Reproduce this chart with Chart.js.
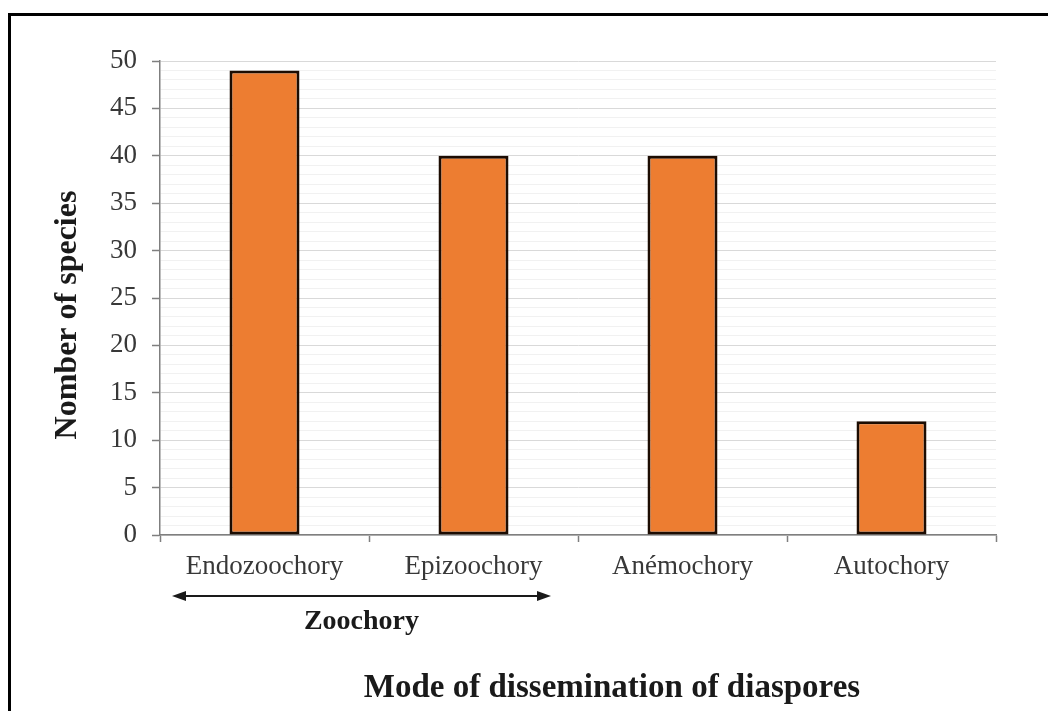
<!DOCTYPE html>
<html>
<head>
<meta charset="utf-8">
<script src="https://cdn.jsdelivr.net/npm/chart.js@4/dist/chart.umd.min.js"></script>
<style>
  html, body { margin: 0; padding: 0; background: #ffffff; }
  #wrap { width: 1048px; height: 711px; position: relative; }
</style>
</head>
<body>
<div id="wrap"><canvas id="chart"></canvas></div>
<script>
// Dissemination modes and species counts
const categories = ['Endozoochory', 'Epizoochory', 'Anémochory', 'Autochory'];
const speciesCounts = [49, 40, 40, 12];
const yTickLabels = ['0', '5', '10', '15', '20', '25', '30', '35', '40', '45', '50'];

const yTitle = 'Nomber of species';
const xTitle = 'Mode of dissemination of diaspores';
const groupLabel = 'Zoochory';
// first and last category spanned by the zoochory bracket
const groupSpan = ['Endozoochory', 'Epizoochory'];

const SERIF = '"Liberation Serif", "Times New Roman", serif';
const INK = '#1a1a1a';

const isMajor = v => v % 5 === 0;

// Frame, bracket arrow and axis titles drawn on the canvas
const decorations = {
  id: 'decorations',
  beforeDraw(chart) {
    const ctx = chart.ctx;
    ctx.save();
    ctx.fillStyle = '#ffffff';
    ctx.fillRect(0, 0, chart.width, chart.height);
    ctx.strokeStyle = '#000000';
    ctx.lineWidth = 3;
    ctx.strokeRect(9.5, 14.5, chart.width + 20, chart.height + 20);
    ctx.restore();
  },
  afterDraw(chart) {
    const ctx = chart.ctx;
    const x = chart.scales.x;
    ctx.save();

    // Y axis title
    ctx.fillStyle = INK;
    ctx.font = 'bold 32px ' + SERIF;
    ctx.textAlign = 'center';
    ctx.textBaseline = 'middle';
    ctx.translate(68, 315);
    ctx.rotate(-Math.PI / 2);
    ctx.fillText(yTitle, 0, 0);
    ctx.setTransform(1, 0, 0, 1, 0, 0);

    // Zoochory bracket: double-headed arrow under the first two categories
    const i0 = categories.indexOf(groupSpan[0]);
    const i1 = categories.indexOf(groupSpan[1]);
    const half = (x.getPixelForValue(1) - x.getPixelForValue(0)) / 2;
    const ax0 = x.getPixelForValue(i0) - half + 12;
    const ax1 = x.getPixelForValue(i1) + half - 27;
    const ay = 596;
    ctx.strokeStyle = INK;
    ctx.fillStyle = INK;
    ctx.lineWidth = 2;
    ctx.beginPath();
    ctx.moveTo(ax0 + 6, ay);
    ctx.lineTo(ax1 - 6, ay);
    ctx.stroke();
    const head = (tipX, dir) => {
      ctx.beginPath();
      ctx.moveTo(tipX, ay);
      ctx.lineTo(tipX + dir * 14, ay - 5);
      ctx.lineTo(tipX + dir * 14, ay + 5);
      ctx.closePath();
      ctx.fill();
    };
    head(ax0, 1);
    head(ax1, -1);

    ctx.font = 'bold 28px ' + SERIF;
    ctx.textAlign = 'center';
    ctx.textBaseline = 'middle';
    ctx.fillText(groupLabel, (ax0 + ax1) / 2, 622);

    // X axis title
    ctx.font = 'bold 33px ' + SERIF;
    ctx.fillText(xTitle, 612, 688);
    ctx.restore();
  }
};

new Chart(document.getElementById('chart'), {
  type: 'bar',
  data: {
    labels: categories,
    datasets: [{
      label: yTitle,
      data: speciesCounts,
      backgroundColor: '#ED7D31',
      borderColor: '#1c0c02',
      borderWidth: 3,
      borderSkipped: false,
      categoryPercentage: 1,
      barPercentage: 0.335
    }]
  },
  options: {
    responsive: true,
    maintainAspectRatio: false,
    animation: false,
    events: [],
    layout: { padding: { left: 0, right: 52, top: 61, bottom: 0 } },
    plugins: {
      legend: { display: false },
      tooltip: { enabled: false },
      title: { display: false }
    },
    scales: {
      x: {
        offset: true,
        grid: {
          offset: true,
          drawOnChartArea: false,
          drawTicks: true,
          tickLength: 7,
          tickColor: '#7f7f7f',
          tickWidth: 1.5
        },
        border: { display: true, color: '#7f7f7f', width: 1.5 },
        ticks: {
          color: '#383838',
          font: { family: SERIF, size: 27 },
          padding: 9,
          maxRotation: 0
        },
        afterFit(scale) { scale.height = 176; }
      },
      y: {
        min: 0,
        max: 50,
        ticks: {
          stepSize: 1,
          autoSkip: false,
          color: '#383838',
          font: { family: SERIF, size: 27 },
          padding: 15,
          callback: v => isMajor(v) ? yTickLabels[v / 5] : ''
        },
        grid: {
          color: ctx => isMajor(ctx.tick.value) ? '#d9d9d9' : '#f1f1f1',
          lineWidth: 1,
          tickLength: 8,
          tickColor: ctx => isMajor(ctx.tick.value) ? '#7f7f7f' : 'rgba(0,0,0,0)',
          tickWidth: 1.5
        },
        border: { display: true, color: '#7f7f7f', width: 1.5 },
        afterFit(scale) { scale.width = 160; }
      }
    }
  },
  plugins: [decorations]
});
</script>
</body>
</html>
